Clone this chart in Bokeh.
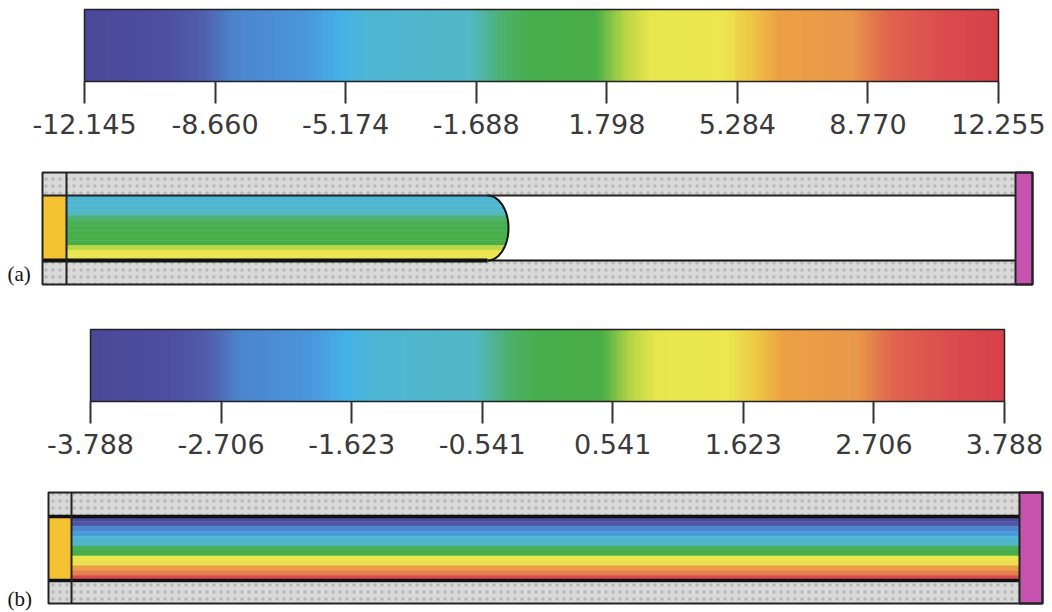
import numpy as np
from bokeh.plotting import figure
from bokeh.models import (Range1d, ColorBar, LinearColorMapper, FixedTicker,
                          PrintfTickFormatter, ColumnDataSource)
from bokeh.transform import linear_cmap
from bokeh.core.properties import value
from bokeh.embed import file_html
from bokeh.resources import INLINE

# ---------------- data ----------------
range_a = (-12.145, 12.255)
ticks_a = [-12.145, -8.660, -5.174, -1.688, 1.798, 5.284, 8.770, 12.255]
range_b = (-3.788, 3.788)
ticks_b = [-3.788, -2.706, -1.623, -0.541, 0.541, 1.623, 2.706, 3.788]
# field value across the channel height (top -> bottom)
profile_a = [-4.4, -4.1, -3.3, -2.0, -1.0, -0.5, -0.1, 0.2, 0.5, 1.0, 2.4, 3.6, 4.2]
profile_b = [-3.55, -3.0, -2.5, -1.95, -1.4, -0.8, -0.2, 0.4, 1.0, 1.55, 2.1, 2.7, 3.4]
panel_labels = ["(a)", "(b)"]

# ---------------- styles ----------------
stops = [
    (0.00, "#4a4898"), (0.09, "#4e4fa2"), (0.13, "#5060ae"), (0.16, "#4c84cc"),
    (0.24, "#4a96dc"), (0.28, "#44b2e8"), (0.31, "#4eb6d4"), (0.42, "#52b8c6"),
    (0.46, "#4cb068"), (0.49, "#46ae4c"), (0.56, "#4aae48"), (0.59, "#b4d444"),
    (0.62, "#e8e64e"), (0.70, "#ece650"), (0.73, "#eec644"), (0.76, "#eca044"),
    (0.84, "#e8984a"), (0.88, "#e0644e"), (0.94, "#dc4c4e"), (1.00, "#d6404a"),
]


def build_palette(stops, n=256):
    fr = np.array([s[0] for s in stops])
    rgb = np.array([[int(c[1:3], 16), int(c[3:5], 16), int(c[5:7], 16)] for _, c in stops], float)
    t = np.linspace(0, 1, n)
    out = []
    for ti in t:
        r = np.interp(ti, fr, rgb[:, 0]); g = np.interp(ti, fr, rgb[:, 1]); b = np.interp(ti, fr, rgb[:, 2])
        out.append("#%02x%02x%02x" % (int(round(r)), int(round(g)), int(round(b))))
    return out


PAL = build_palette(stops)
GRAY = "#d9d9d9"
INLET = "#f2c232"
MAGENTA = "#c653b0"
LABEL_FONT = "DejaVu Sans"
TICK_OUT = 22
STANDOFF = 10

W, H = 1052, 612
p = figure(width=W, height=H, x_range=Range1d(0, W), y_range=Range1d(H, 0),
           output_backend="svg", toolbar_location=None, min_border=0,
           x_axis_type=None, y_axis_type=None, outline_line_color=None)
p.xgrid.visible = False
p.ygrid.visible = False


def add_colorbar(rng, ticks, x0, x1, bar_top, bar_h):
    mapper = LinearColorMapper(palette=PAL, low=rng[0], high=rng[1])
    total = bar_h + TICK_OUT + STANDOFF + 24
    cb = ColorBar(color_mapper=mapper, ticker=FixedTicker(ticks=ticks),
                  formatter=PrintfTickFormatter(format="%.3f"),
                  orientation="horizontal", width=x1 - x0, height=bar_h,
                  location=(x0, H - (bar_top + total)), padding=0, margin=0,
                  major_tick_in=0, major_tick_out=TICK_OUT,
                  major_tick_line_color="#333333", major_tick_line_width=2,
                  minor_tick_line_color=None,
                  bar_line_color="#222222", bar_line_width=1.5,
                  major_label_text_font=LABEL_FONT,
                  major_label_text_font_size="27px",
                  major_label_text_color="#3a3a3a",
                  label_standoff=STANDOFF, border_line_color=None,
                  background_fill_alpha=0)
    p.add_layout(cb, "center")


def add_channel(rng, profile, x0, x_inlet, x_mag, x1, top, ft, fb, bottom,
                front=None, bulge=0):
    # walls
    for (yt, yb) in [(top, ft), (fb, bottom)]:
        p.quad(left=x0, right=x_mag, top=yt, bottom=yb, fill_color=GRAY,
               line_color=None, hatch_pattern="dot", hatch_color="#b4b4b4",
               hatch_scale=7, hatch_weight=1, hatch_alpha=0.9)
    # inlet block
    p.quad(left=x0, right=x_inlet, top=ft, bottom=fb, fill_color=INLET, line_color=None)
    # fluid bands
    n = len(profile)
    edges = np.linspace(ft, fb, n + 1)
    fx1 = (front + bulge) if front is not None else x_mag
    src = ColumnDataSource(dict(top=edges[:-1], bottom=edges[1:], val=profile))
    p.quad(left=x_inlet, right=fx1, top="top", bottom="bottom", source=src,
           fill_color=linear_cmap("val", PAL, rng[0], rng[1]),
           line_color=linear_cmap("val", PAL, rng[0], rng[1]), line_width=0.5)
    if front is not None:
        mid = (ft + fb) / 2.0
        half = (fb - ft) / 2.0
        t1 = np.linspace(-np.pi / 2, 0, 40)
        t2 = np.linspace(0, np.pi / 2, 40)
        ax1 = front + bulge * np.cos(t1); ay1 = mid + half * np.sin(t1)
        ax2 = front + bulge * np.cos(t2); ay2 = mid + half * np.sin(t2)
        p.patch(list(ax1) + [front + bulge + 1], list(ay1) + [ft], fill_color="white", line_color=None)
        p.patch(list(ax2) + [front + bulge + 1], list(ay2) + [fb], fill_color="white", line_color=None)
        p.line(list(ax1) + list(ax2[1:]), list(ay1) + list(ay2[1:]), line_color="#111111", line_width=2)
        # thick bottom line under fluid
        p.segment(x0=[x0, front], y0=[fb, fb], x1=[front, x_mag], y1=[fb, fb],
                  line_color="#111111", line_width=[4, 2])
        p.segment(x0=[x0], y0=[ft], x1=[x_mag], y1=[ft], line_color="#222222", line_width=2)
    else:
        p.segment(x0=[x0, x0], y0=[ft, fb], x1=[x_mag, x_mag], y1=[ft, fb],
                  line_color="#111111", line_width=3.5)
    # inlet vertical line
    p.segment(x0=[x_inlet], y0=[top], x1=[x_inlet], y1=[bottom], line_color="#222222", line_width=2)
    # magenta outlet
    p.quad(left=x_mag, right=x1, top=top, bottom=bottom, fill_color=MAGENTA,
           line_color="#222222", line_width=2)
    # outer border
    p.quad(left=x0, right=x1, top=top, bottom=bottom, fill_color=None,
           line_color="#222222", line_width=2)


add_colorbar(range_a, ticks_a, 84, 998, 8, 72)
add_channel(range_a, profile_a, 42, 66, 1015, 1032, 172, 195, 260, 284, front=487, bulge=21)
add_colorbar(range_b, ticks_b, 90, 1004, 328, 72)
add_channel(range_b, profile_b, 48, 71, 1019, 1042, 492, 516, 580, 603)

p.text(x=[7, 7], y=[273, 598], text=panel_labels, text_font=value("Liberation Serif"),
       text_font_size="21px", text_baseline="middle", text_align="left", text_color="#111111")

open("out.html", "w").write(file_html(p, INLINE))
